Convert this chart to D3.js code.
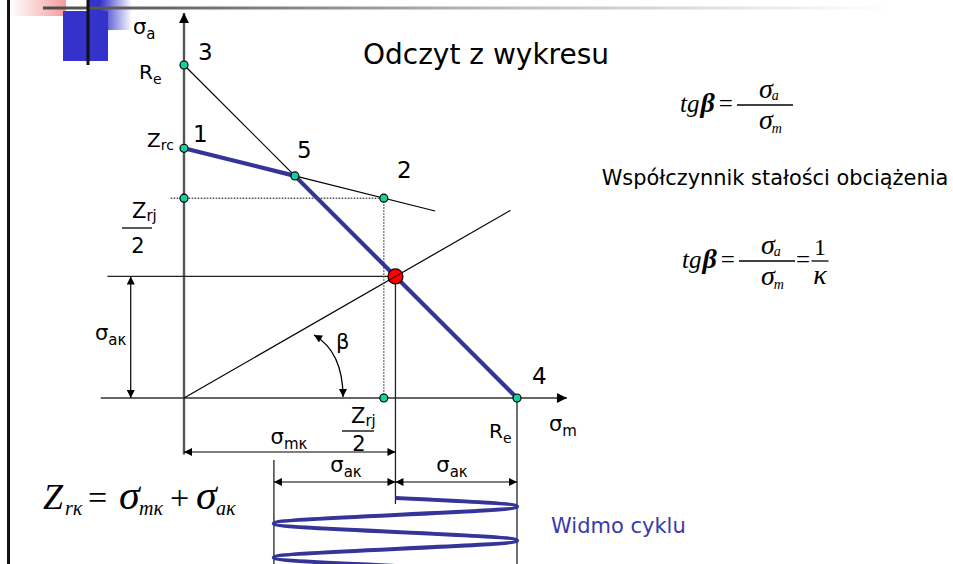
<!DOCTYPE html>
<html><head><meta charset="utf-8">
<script src="https://cdn.jsdelivr.net/npm/d3@7"></script>
<style>body{margin:0;background:#fff}svg{display:block}</style>
</head><body><svg id="c" width="953" height="564"></svg>
<script>
// Stress values in units of the yield strength (Re = 100)
const limitNames = ["1", "2", "3", "4", "5"];
const limitSm = [0, 60, 0, 100, 33.3];
const limitSa = [75, 60, 100, 0, 66.7];
// Working point of the cycle: mean stress and amplitude
const cycleMean = 63.5;
const cycleAmp = 36.5;
// Cycle spectrum: time (in periods) and stress
const spectrumT = [0, 0.25, 0.75, 1.25, 1.75, 2.0];
const spectrumS = [63.5, 100, 27, 100, 27, 63.5];

const SANS = "DejaVu Sans", SERIF = "Liberation Serif";
const BLUE = "#343499", GREEN = "#14d2a0";

const svg = d3.select("#c");
const defs = svg.append("defs");

const x = d3.scaleLinear().domain([0, 100]).range([184, 517]);
const y = d3.scaleLinear().domain([0, 100]).range([398, 65]);
const t = d3.scaleLinear().domain([0, 2]).range([498, 566]);

function marker(id, w, h) {
  defs.append("marker").attr("id", id).attr("viewBox", "0 0 10 10")
    .attr("refX", 10).attr("refY", 5).attr("markerWidth", w).attr("markerHeight", h)
    .attr("markerUnits", "userSpaceOnUse").attr("orient", "auto-start-reverse")
    .append("path").attr("d", "M0,0L10,5L0,10z").attr("fill", "#000");
}
marker("axArrow", 13, 10);
marker("dimArrow", 10, 8);

function grad(id, stops, x1, x2) {
  const g = defs.append("linearGradient").attr("id", id)
    .attr("gradientUnits", "userSpaceOnUse").attr("x1", x1).attr("x2", x2).attr("y1", 0).attr("y2", 0);
  stops.forEach(s => g.append("stop").attr("offset", s[0]).attr("stop-color", s[1]).attr("stop-opacity", s[2]));
}
grad("pinkFade", [[0, "#ee5a5a", 0], [1, "#ee5a5a", 0.6]], 10, 66);
grad("blueFade", [[0, "#3333cc", 1], [1, "#3333cc", 0]], 100, 132);
grad("rule", [[0, "#4a4a4a", 1], [0.55, "#bdbdbd", 1], [1, "#ffffff", 1]], 43, 890);

// slide decoration
svg.append("rect").attr("x", 10).attr("y", 0).attr("width", 56).attr("height", 16).attr("fill", "url(#pinkFade)");
svg.append("rect").attr("x", 88).attr("y", 0).attr("width", 44).attr("height", 30).attr("fill", "url(#blueFade)");
svg.append("rect").attr("x", 63).attr("y", 11).attr("width", 45).attr("height", 50).attr("fill", "#3333cc");
svg.append("line").attr("x1", 43).attr("x2", 890).attr("y1", 8).attr("y2", 8).attr("stroke", "url(#rule)").attr("stroke-width", 3);
svg.append("line").attr("x1", 88).attr("x2", 88).attr("y1", 0).attr("y2", 65).attr("stroke", "#111").attr("stroke-width", 3);
svg.append("line").attr("x1", 8.5).attr("x2", 8.5).attr("y1", 0).attr("y2", 564).attr("stroke", "#111").attr("stroke-width", 3);

const g = svg.append("g");
function seg(x1, y1, x2, y2, o = {}) {
  const l = g.append("line").attr("x1", x1).attr("y1", y1).attr("x2", x2).attr("y2", y2)
    .attr("stroke", o.color || "#000").attr("stroke-width", o.w || 1.2);
  if (o.dash) l.attr("stroke-dasharray", o.dash);
  if (o.end) l.attr("marker-end", `url(#${o.end})`);
  if (o.start) l.attr("marker-start", `url(#${o.start})`);
  return l;
}

// axes
seg(x(0), y(-17), x(0), y(115.6), { color: "#555", w: 2.4, end: "axArrow" });
seg(x(-25), y(0), x(115), y(0), { color: "#333", w: 1.6, end: "axArrow" });

// guide lines
const p1 = 0, p2 = 1, p3 = 2, p4 = 3, p5 = 4;
const slope12 = (limitSa[p2] - limitSa[p1]) / (limitSm[p2] - limitSm[p1]);
const ext = 75.4;
seg(x(limitSm[p3]), y(limitSa[p3]), x(limitSm[p5]), y(limitSa[p5]));
seg(x(limitSm[p5]), y(limitSa[p5]), x(ext), y(limitSa[p1] + slope12 * ext));
// load ray through the working point
const rayEnd = 98;
seg(x(0), y(0), x(rayEnd), y(rayEnd * cycleAmp / cycleMean));
// level of the working amplitude
seg(x(-23), y(cycleAmp), x(cycleMean), y(cycleAmp), { w: 1.3, color: "#222" });
// dotted projections of point 2
seg(x(-4), y(limitSa[p2]), x(limitSm[p2]), y(limitSa[p2]), { color: "#555", w: 1.4, dash: "1.6,1.4" });
seg(x(limitSm[p2]), y(limitSa[p2]), x(limitSm[p2]), y(0), { color: "#555", w: 1.4, dash: "1.6,1.4" });

// dimension lines
const rowM = 452, rowA = 482;
seg(x(cycleMean), y(cycleAmp), x(cycleMean), 504, { color: "#222", w: 1.3 });
seg(x(cycleMean - cycleAmp), 460, x(cycleMean - cycleAmp), 564, { color: "#222", w: 1.3 });
seg(x(100), y(0), x(100), 564, { color: "#222", w: 1.3 });
seg(x(0), rowM, x(cycleMean), rowM, { start: "dimArrow", end: "dimArrow" });
seg(x(cycleMean - cycleAmp), rowA, x(cycleMean), rowA, { start: "dimArrow", end: "dimArrow" });
seg(x(cycleMean), rowA, x(cycleMean + cycleAmp), rowA, { start: "dimArrow", end: "dimArrow" });
seg(x(-16), y(cycleAmp), x(-16), y(0), { start: "dimArrow", end: "dimArrow" });

// angle beta
const bp = d3.path();
bp.moveTo(314, 335);
bp.quadraticCurveTo(343, 352, 343, 397);
g.append("path").attr("d", bp.toString()).attr("fill", "none").attr("stroke", "#000").attr("stroke-width", 1.3)
  .attr("marker-start", "url(#dimArrow)").attr("marker-end", "url(#dimArrow)");

// limit line 1-5-4
const lim = d3.line().x(d => x(d[0])).y(d => y(d[1]));
g.append("path").attr("d", lim([[limitSm[p1], limitSa[p1]], [limitSm[p5], limitSa[p5]], [limitSm[p4], limitSa[p4]]]))
  .attr("fill", "none").attr("stroke", BLUE).attr("stroke-width", 4.2).attr("stroke-linejoin", "round");

// cycle spectrum
const spec = d3.line().x((d, i) => x(spectrumS[i])).y((d, i) => t(spectrumT[i])).curve(d3.curveMonotoneY);
g.append("path").attr("d", spec(spectrumT)).attr("fill", "none").attr("stroke", BLUE).attr("stroke-width", 4.2);

// points
const pts = limitSm.map((m, i) => [m, limitSa[i]]).concat([[0, limitSa[p2]], [limitSm[p2], 0]]);
g.selectAll("circle.pt").data(pts).join("circle").attr("class", "pt")
  .attr("cx", d => x(d[0])).attr("cy", d => y(d[1])).attr("r", 4)
  .attr("fill", GREEN).attr("stroke", "#000").attr("stroke-width", 1.2);
g.append("circle").attr("cx", x(cycleMean)).attr("cy", y(cycleAmp)).attr("r", 7.5)
  .attr("fill", "#f00").attr("stroke", "#000").attr("stroke-width", 1.2);
seg(x(cycleMean) - 6, y(cycleAmp) + 3.4, x(cycleMean) + 6, y(cycleAmp) - 3.4, { w: 1 });

// text helpers
function txt(xp, yp, s, o = {}) {
  return svg.append("text").attr("x", xp).attr("y", yp).attr("font-family", o.font || SANS)
    .attr("font-size", o.size || 20).attr("fill", o.color || "#000")
    .attr("font-style", o.italic ? "italic" : null)
    .attr("text-anchor", o.anchor || "start").text(s);
}
function subTxt(xp, yp, main, sub, o = {}) {
  const size = o.size || 20;
  const e = svg.append("text").attr("x", xp).attr("y", yp).attr("font-family", o.font || SANS)
    .attr("font-size", size).attr("fill", "#000").attr("text-anchor", o.anchor || "start")
    .attr("font-style", o.italic ? "italic" : null);
  e.append("tspan").text(main);
  e.append("tspan").attr("dy", o.dy || size * 0.28).attr("font-size", o.sub || size * 0.7).text(sub);
  return e;
}
function bar(cx, barY, w) {
  svg.append("line").attr("x1", cx - w / 2).attr("x2", cx + w / 2).attr("y1", barY).attr("y2", barY)
    .attr("stroke", "#000").attr("stroke-width", 1.3);
}

// labels on the diagram
subTxt(133, 34, "σ", "a", { size: 21, sub: 15, dy: 5 });
txt(198, 60, limitNames[p3], { size: 23 });
subTxt(139, 79, "R", "e", { size: 20, sub: 14, dy: 5 });
subTxt(147, 147, "Z", "rc", { size: 20, sub: 14, dy: 3 });
txt(193, 142, limitNames[p1], { size: 23 });
txt(297, 158, limitNames[p5], { size: 23 });
txt(397, 178, limitNames[p2], { size: 23 });
txt(532, 384, limitNames[p4], { size: 23 });

subTxt(132, 218, "Z", "rj", { size: 21, sub: 15, dy: 3 });
bar(137, 228, 30);
txt(138, 253, "2", { size: 21, anchor: "middle" });

subTxt(351, 423, "Z", "rj", { size: 21, sub: 15, dy: 3 });
bar(358, 431, 32);
txt(359, 451, "2", { size: 21, anchor: "middle" });

subTxt(489, 438, "R", "e", { size: 20, sub: 14, dy: 5 });
subTxt(549, 431, "σ", "m", { size: 21, sub: 15, dy: 5 });
txt(336, 349, "β", { size: 21 });
subTxt(95, 340, "σ", "aκ", { size: 21, sub: 15, dy: 5 });
subTxt(289, 444, "σ", "mκ", { size: 21, sub: 15, dy: 5, anchor: "middle" });
subTxt(346, 472, "σ", "aκ", { size: 21, sub: 15, dy: 5, anchor: "middle" });
subTxt(452, 472, "σ", "aκ", { size: 21, sub: 15, dy: 5, anchor: "middle" });

txt(486, 64, "Odczyt z wykresu", { size: 28, anchor: "middle" });
txt(775, 185, "Współczynnik stałości obciążenia", { size: 20.9, anchor: "middle" });
txt(551, 533, "Widmo cyklu", { size: 21, color: "#3a3aa8" });

// formulas
function tgb(xp, yp) {
  const e = svg.append("text").attr("x", xp).attr("y", yp).attr("font-family", SERIF).attr("font-size", 25).attr("font-style", "italic");
  e.append("tspan").text("tg");
  e.append("tspan").attr("font-size", 28).attr("font-weight", "bold").attr("dx", 1).text("β");
  e.append("tspan").attr("font-style", "normal").attr("dx", 4).text("=");
}
function sigma(xp, yp, sub, dy) {
  const e = svg.append("text").attr("x", xp).attr("y", yp).attr("font-family", SERIF).attr("font-size", 28)
    .attr("font-style", "italic");
  e.append("tspan").text("σ");
  e.append("tspan").attr("font-size", 14).attr("dy", dy).attr("dx", -1).text(sub);
}
tgb(680, 112);
bar(765, 105, 56);
sigma(759, 98, "a", 2);
sigma(759, 129, "m", 4);

tgb(682, 268);
bar(767, 261, 56);
sigma(761, 254, "a", 2);
sigma(761, 285, "m", 4);
txt(796, 268, "=", { font: SERIF, size: 25 });
bar(820, 261, 17);
txt(820, 255, "1", { font: SERIF, size: 24, anchor: "middle" });
txt(820, 284, "κ", { font: SERIF, size: 28, italic: true, anchor: "middle" });

// Z_rκ = σ_mκ + σ_aκ
{
  const by = 509;
  const piece = (xp, s, size, dy, italic) => svg.append("text").attr("x", xp).attr("y", by + dy)
    .attr("font-family", SERIF).attr("font-size", size).attr("font-style", italic ? "italic" : null).text(s);
  piece(43, "Z", 36, 0, true);
  piece(65, "rκ", 20, 6, true);
  piece(88, "=", 34, 0, false);
  piece(119, "σ", 42, 0, true);
  piece(139, "mκ", 20, 6, true);
  piece(170, "+", 34, 0, false);
  piece(196, "σ", 42, 0, true);
  piece(216, "aκ", 20, 6, true);
}
</script></body></html>
